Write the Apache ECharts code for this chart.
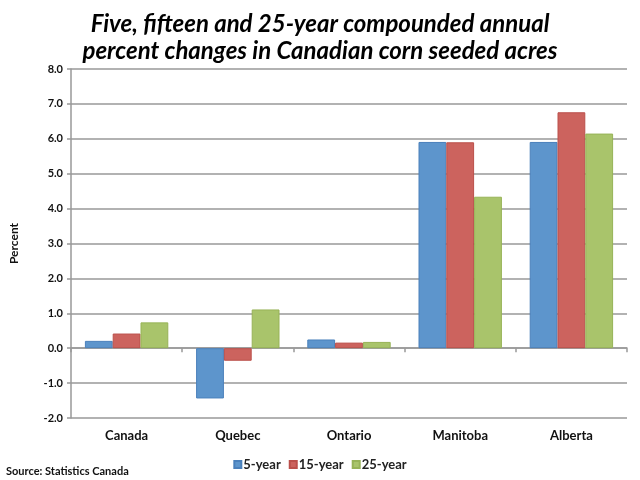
<!DOCTYPE html>
<html>
<head>
<meta charset="utf-8">
<script src="https://cdn.jsdelivr.net/npm/echarts@6/dist/echarts.min.js"></script>
<style>html,body{margin:0;padding:0;background:#fff}#c{width:640px;height:480px}</style>
</head>
<body>
<div id="c"></div>
<script>
var categories = ["Canada", "Quebec", "Ontario", "Manitoba", "Alberta"];
var seriesNames = ["5-year", "15-year", "25-year"];
var fiveYear = [0.21, -1.44, 0.25, 5.91, 5.91];
var fifteenYear = [0.42, -0.36, 0.16, 5.90, 6.76];
var twentyFiveYear = [0.74, 1.11, 0.18, 4.34, 6.15];
var yTicks = [-2, -1, 0, 1, 2, 3, 4, 5, 6, 7, 8];

var colors = ["#5d95cc", "#cc635e", "#a9c46b"];
var borders = ["#4a80bb", "#bb504b", "#97b357"];
var values = [fiveYear, fifteenYear, twentyFiveYear];

var chart = echarts.init(document.getElementById('c'));
var font = "Lato, 'Open Sans', sans-serif";
chart.setOption({
  animation: false,
  title: {
    text: "Five, fifteen and 25-year compounded annual\npercent changes in Canadian corn seeded acres",
    left: 'center',
    top: 6,
    textStyle: { fontFamily: font, fontSize: 24, fontWeight: 'bold', fontStyle: 'italic', color: '#000', lineHeight: 27 }
  },
  legend: {
    data: seriesNames,
    left: 'center',
    top: 453,
    icon: 'rect',
    itemWidth: 7,
    itemHeight: 7,
    itemGap: 8,
    textStyle: { fontFamily: font, fontSize: 13, fontWeight: 'bold', color: '#222', padding: [0, 0, 0, -3] }
  },
  graphic: [{
    type: 'text', left: 6, top: 466,
    style: { text: 'Source: Statistics Canada', font: "bold 11px Lato, 'Open Sans', sans-serif", fill: '#111' }
  }],
  grid: { left: 65, right: 13, top: 69, bottom: 62 },
  xAxis: [{
    type: 'category',
    data: categories,
    position: 'bottom',
    axisLine: { onZero: true, lineStyle: { color: '#999', width: 1.5 } },
    axisTick: { show: true, length: 4, lineStyle: { color: '#999', width: 1.5 } },
    axisLabel: { show: false }
  }, {
    type: 'category',
    data: categories,
    position: 'bottom',
    axisLine: { show: false, onZero: false },
    axisTick: { show: false },
    axisLabel: { show: true, margin: 11, fontFamily: font, fontSize: 13, fontWeight: 'bold', color: '#111' }
  }],
  yAxis: {
    type: 'value',
    min: yTicks[0],
    max: yTicks[yTicks.length - 1],
    interval: 1,
    name: 'Percent',
    nameLocation: 'middle',
    nameGap: 51,
    nameTextStyle: { fontFamily: font, fontSize: 12, fontWeight: 'bold', color: '#111' },
    axisLine: { show: true, lineStyle: { color: '#999', width: 1.5 } },
    axisTick: { show: true, length: 4, lineStyle: { color: '#999', width: 1.5 } },
    axisLabel: { margin: 8, fontFamily: font, fontSize: 11, fontWeight: 'bold', color: '#111', formatter: function (v) { return v.toFixed(1); } },
    splitLine: { show: true, lineStyle: { color: '#999', width: 1.5 } }
  },
  series: seriesNames.map(function (n, i) {
    return {
      name: n,
      type: 'bar',
      xAxisIndex: 0,
      data: values[i],
      barGap: '0%',
      barCategoryGap: '25%',
      itemStyle: { color: colors[i], borderColor: borders[i], borderWidth: 1 }
    };
  }),
  color: colors
});
</script>
</body>
</html>
